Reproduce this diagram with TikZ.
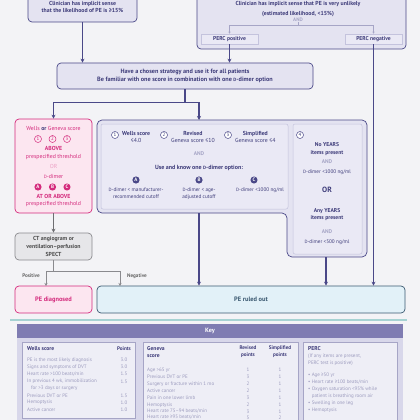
\documentclass[tikz,border=0pt]{standalone}
\usepackage{fontspec}
\setmainfont{PT Sans}
\usetikzlibrary{positioning,arrows.meta,shapes.misc}
\definecolor{bg}{HTML}{F3F3F6}
\definecolor{ink}{HTML}{3E3C7A}
\definecolor{pdark}{HTML}{4A4888}
\definecolor{plight}{HTML}{E4E3F1}
\definecolor{pinner}{HTML}{EAE9F5}
\definecolor{pline}{HTML}{C4C3DD}
\definecolor{faint}{HTML}{A6A5C6}
\definecolor{pinkc}{HTML}{D42A7C}
\definecolor{pinkf}{HTML}{FCE6F0}
\definecolor{grayb}{HTML}{8A8A8E}
\definecolor{grayf}{HTML}{E6E6E9}
\definecolor{bluef}{HTML}{E2F1F8}
\definecolor{blueb}{HTML}{3A5870}
\definecolor{keyhead}{HTML}{7F7CB2}
\definecolor{keypanel}{HTML}{D8D7EA}
\definecolor{keybox}{HTML}{EEEEF6}
\definecolor{keytext}{HTML}{9C9BBE}
\newcommand{\Ddim}{{\fontsize{4.6}{5}\selectfont D}-dimer}

\tikzset{
  box/.style={draw=pdark, fill=plight, rounded corners=4pt, line width=0.7pt, text=ink, align=center, inner sep=0pt},
  percbox/.style={draw=pline, fill=pinner, line width=0.5pt, text=ink, minimum width=57pt, minimum height=10pt, inner sep=0pt},
  arr/.style={-{Stealth[length=4pt,width=4pt]}, line width=1.3pt, draw=pdark},
  thinarr/.style={-{Stealth[length=3pt,width=3pt]}, line width=0.6pt, draw=grayb},
  txt/.style={text=ink, align=center, inner sep=0pt},
  numc/.style={circle, draw=pdark, fill=white, line width=0.5pt, inner sep=0.9pt, minimum size=7pt, font=\fontsize{5}{5}\selectfont, text=ink},
  letc/.style={circle, fill=pdark, inner sep=0.9pt, minimum size=7pt, font=\fontsize{5}{5}\selectfont\bfseries, text=white},
  keyrow/.style={text=keytext, inner sep=0pt, font=\fontsize{5}{6}\selectfont},
  keyhd/.style={text=ink, inner sep=0pt, font=\fontsize{5.6}{6.6}\selectfont\bfseries, align=left}
}

\begin{document}
\begin{tikzpicture}[x=1pt, y=-1pt, font=\fontsize{5.8}{7.6}\selectfont]
\fill[bg] (0,0) rectangle (420,420);
\useasboundingbox (0,0) rectangle (420,420);

% top boxes
\node[box, font=\fontsize{5.8}{7.8}\selectfont\bfseries, minimum width=109pt, minimum height=30pt] (high) at (82.5,7) {Clinician has implicit sense\\that the likelihood of PE is ≥15\%};
\node[box, minimum width=209pt, minimum height=57pt] (low) at (301.5,20.5) {};
\node[txt, font=\fontsize{5.8}{9.5}\selectfont\bfseries] (lowtxt) at (298,9) {Clinician has implicit sense that PE is very unlikely\\(estimated likelihood, <15\%)};
\node[txt, text=faint, font=\fontsize{5}{6}\selectfont\bfseries] (and0) at (298,20) {AND};
\node[percbox, font=\fontsize{5.6}{6}\selectfont\bfseries] (percpos) at (229.5,39) {PERC positive};
\node[percbox, font=\fontsize{5.6}{6}\selectfont\bfseries] (percneg) at (373.5,39) {PERC negative};
\draw[draw=faint, line width=0.5pt] (and0.south) -- ++(0,3) coordinate (brk);
\draw[-{Stealth[length=2pt,width=2pt]}, draw=faint, line width=0.5pt] (brk) -| (percpos.north);
\draw[-{Stealth[length=2pt,width=2pt]}, draw=faint, line width=0.5pt] (brk) -| (percneg.north);

% strategy
\node[box, font=\fontsize{6.2}{8.6}\selectfont\bfseries, minimum width=256pt, minimum height=26pt] (strat) at (185,76) {Have a chosen strategy and use it for all patients\\Be familiar with one score in combination with one \Ddim{} option};
\draw[arr] (high.south) -- (high.south |- strat.north);
\draw[arr] (percpos.south) -- (percpos.south |- strat.north);

% pink branch
\node[box, draw=pinkc, fill=pinkf, minimum width=77pt, minimum height=94pt] (pos) at (53.5,166) {};
\node[txt, text=pinkc] at (53.5,128) {Wells {\bfseries\color{ink}or} Geneva score};
\foreach \n/\x in {1/38,2/52.5,3/67}
  \node[numc, draw=pinkc, text=pinkc, fill=pinkf] (p\n) at (\x,139) {\n};
\node[txt, text=pinkc, font=\fontsize{5.8}{7.6}\selectfont] at (53.5,153) {{\bfseries ABOVE}\\prespecified threshold};
\node[txt, text=pinkc!45] at (53.5,166) {OR};
\node[txt, text=pinkc] at (53.5,176) {\Ddim};
\foreach \n/\x in {A/38,B/52.5,C/67}
  \node[letc, fill=pinkc] (pl\n) at (\x,187) {\n};
\node[txt, text=pinkc, font=\fontsize{5.8}{7.6}\selectfont] at (53.5,200.5) {{\bfseries AT OR ABOVE}\\prespecified threshold};

\node[box, draw=grayb, fill=grayf, text=black!70, font=\fontsize{5.8}{7.6}\selectfont\bfseries, minimum width=77pt, minimum height=27pt] (ct) at (53.5,246.5) {CT angiogram or\\ventilation–perfusion\\SPECT};
\draw[arr, line width=1pt, draw=grayb!80!black] (pos.south) -- (ct.north);

% outcomes
\node[box, draw=pinkc, fill=pinkf, text=pinkc, font=\fontsize{6.4}{7}\selectfont\bfseries, minimum width=77pt, minimum height=27pt] (diag) at (53.5,299.5) {PE diagnosed};
\node[box, draw=blueb, fill=bluef, text=blueb, font=\fontsize{6.4}{7}\selectfont\bfseries, minimum width=308pt, minimum height=27pt] (out) at (251,299.5) {PE ruled out};
\coordinate (split) at (53.5,271);
\draw[thinarr, -] (ct.south) -- (split);
\draw[thinarr] (split) -| (46,286);
\draw[thinarr] (split) -| (120,286);
\node[text=black!60, font=\fontsize{5.2}{6}\selectfont\bfseries, inner sep=0pt] at (31,276) {Positive};
\node[text=black!60, font=\fontsize{5.2}{6}\selectfont\bfseries, inner sep=0pt] at (137,276) {Negative};

% score panels
\draw[draw=pdark, fill=plight, line width=0.7pt, rounded corners=5pt]
  (97,120) -- (367,120) -- (367,257) -- (287,257) -- (287,213) -- (97,213) -- cycle;
\draw[draw=pline, fill=pinner, line width=0.5pt, rounded corners=2pt] (101,124) rectangle (288,209);
\draw[draw=pline, fill=pinner, line width=0.5pt, rounded corners=2pt] (293,124) rectangle (362,254);
\coordinate (scoretop) at (199,120);
\coordinate (scorebot) at (199,213);
\coordinate (yearsbot) at (326,257);
\draw[arr] (strat.south) -- ++(0,13) -| (pos.north);
\draw[arr] (strat.south) -- ++(0,13) -| (scoretop);
\draw[arr] (scorebot) -- (scorebot |- out.north);
\draw[arr] (yearsbot) -- (yearsbot |- out.north);
\draw[arr] (percneg.south) -- (percneg.south |- out.north);

\node[numc] (n1) at (115,135) {1};
\node[txt, anchor=west] at (122,137) {{\bfseries Wells score}\\≤4.0};
\node[numc] (n2) at (164,135) {2};
\node[txt, anchor=west] at (171,137) {{\bfseries Revised}\\Geneva score ≤10};
\node[numc] (n3) at (228,135) {3};
\node[txt, anchor=west] at (235,137) {{\bfseries Simplified}\\Geneva score ≤4};
\node[txt, text=faint, font=\fontsize{5.4}{6}\selectfont\bfseries] at (199,154) {AND};
\node[txt, font=\fontsize{6}{7}\selectfont\bfseries] at (199,168) {Use and know one \Ddim{} option:};
\foreach \n/\x in {A/136,B/199,C/254}
  \node[letc] (l\n) at (\x,180) {\n};
\node[txt, font=\fontsize{5.2}{7}\selectfont] at (136,193.5) {\Ddim{} < manufacturer-\\recommended cutoff};
\node[txt, font=\fontsize{5.2}{7}\selectfont] at (199,193.5) {\Ddim{} < age-\\adjusted cutoff};
\node[txt, font=\fontsize{5.2}{7}\selectfont] at (260,190) {\Ddim{} <1000 ng/ml};

\node[numc] (n4) at (300,135) {4};
\node[txt, font=\fontsize{5.6}{7.4}\selectfont\bfseries] at (327,149) {No YEARS\\items present};
\node[txt, text=faint, font=\fontsize{5.4}{6}\selectfont\bfseries] at (327,162) {AND};
\node[txt, font=\fontsize{5.2}{6}\selectfont] at (327,172) {\Ddim{} <1000 ng/ml};
\node[txt, font=\fontsize{7.6}{8}\selectfont\bfseries] at (327,190) {OR};
\node[txt, font=\fontsize{5.6}{7.4}\selectfont\bfseries] at (327,214.5) {Any YEARS\\items present};
\node[txt, text=faint, font=\fontsize{5.4}{6}\selectfont\bfseries] at (327,232) {AND};
\node[txt, font=\fontsize{5.2}{6}\selectfont] at (327,242) {\Ddim{} <500 ng/ml};

% key
\draw[draw=teal!35, line width=1.2pt] (10,320) -- (407,320);
\fill[keypanel] (17,338) rectangle (403,425);
\fill[keyhead] (17,324) rectangle (403,338);
\node[text=white, font=\fontsize{6.2}{7}\selectfont\bfseries, inner sep=0pt] (key) at (210,331) {Key};
\draw[draw=faint, fill=keybox, line width=0.5pt] (22,342) rectangle (135,418);
\draw[draw=faint, fill=keybox, line width=0.5pt] (143,342) rectangle (298,425);
\draw[draw=faint, fill=keybox, line width=0.5pt] (303,342) rectangle (397,425);

\node[keyhd, anchor=west] at (27,349) {Wells score};
\node[keyhd, font=\fontsize{5.2}{6}\selectfont\bfseries] at (124,349) {Points};
\foreach \t/\p/\y in {PE is the most likely diagnosis/3.0/360, Signs and symptoms of DVT/3.0/367,
    Heart rate >100 beats\slash min/1.5/374, {In previous 4 wk, immobilization}/1.5/381.5,
    Previous DVT or PE/1.5/395.5, Hemoptysis/1.0/402.5, Active cancer/1.0/409.5}{
  \node[keyrow, anchor=west] at (27,\y) {\t};
  \node[keyrow] at (124,\y) {\p};
}
\node[keyrow, anchor=west] at (31,388.5) {for >3 days or surgery};

\node[keyhd, anchor=north west, font=\fontsize{5.6}{7}\selectfont\bfseries] at (147,346) {Geneva\\score};
\node[keyhd, anchor=north, align=center, font=\fontsize{5.2}{7}\selectfont\bfseries] at (248,346) {Revised\\points};
\node[keyhd, anchor=north, align=center, font=\fontsize{5.2}{7}\selectfont\bfseries] at (280,346) {Simplified\\points};
\foreach \t/\r/\s/\y in {Age >65 yr/1/1/370, Previous DVT or PE/3/1/377, Surgery or fracture within 1 mo/2/1/384,
    Active cancer/2/1/391, Pain in one lower limb/3/1/398, Hemoptysis/2/1/405,
    Heart rate 75–94 beats\slash min/3/1/411.5, Heart rate ≥95 beats\slash min/5/2/417.5}{
  \node[keyrow, anchor=west] at (147,\y) {\t};
  \node[keyrow] at (248,\y) {\r};
  \node[keyrow] at (280,\y) {\s};
}

\node[keyhd, anchor=west] at (308,349) {PERC};
\node[keyrow, anchor=north west, align=left, font=\fontsize{5}{7}\selectfont] at (308,354) {(If any items are present,\\PERC test is positive)};
\node[keyrow, anchor=north west, align=left, font=\fontsize{5}{7}\selectfont] at (308,373) {• Age ≥50 yr\\• Heart rate ≥100 beats/min\\• Oxygen saturation <95\% while\\\hphantom{• }patient is breathing room air\\• Swelling in one leg\\• Hemoptysis};
\end{tikzpicture}
\end{document}
